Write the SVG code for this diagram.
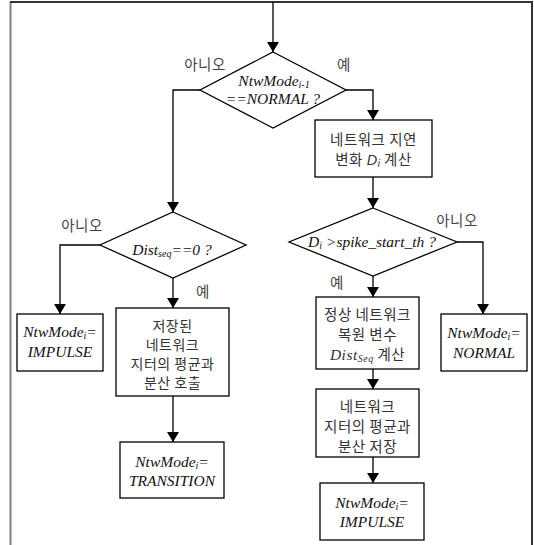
<svg xmlns="http://www.w3.org/2000/svg" width="534" height="545" viewBox="0 0 534 545">
<style>
.ln{fill:none;stroke:#000;stroke-width:1.3}
.bx{fill:#fff;stroke:#000;stroke-width:1.3}
.kr{font-family:"Noto Sans CJK KR","Liberation Sans",sans-serif;font-size:14.5px;fill:#333;text-anchor:middle;letter-spacing:0.5px}
.lb{font-family:"Noto Sans CJK KR","Liberation Sans",sans-serif;font-size:14.5px;fill:#444;text-anchor:middle;letter-spacing:0.5px}
.m{font-family:"Liberation Serif",serif;font-style:italic;font-size:15.5px;fill:#111;text-anchor:middle}
.s{font-size:10px}
</style>
<defs>
<marker id="ah" viewBox="0 0 10 12" refX="10" refY="6" markerWidth="10" markerHeight="12" markerUnits="userSpaceOnUse" orient="auto">
<path d="M0,0 L10,6 L0,12 Z" fill="#000"/>
</marker>
</defs>
<g id="frame">
<line x1="10.5" y1="2" x2="10.5" y2="545" stroke="#808080" stroke-width="2"/>
<line x1="10" y1="2" x2="533" y2="2" stroke="#333" stroke-width="2"/>
<line x1="532" y1="2" x2="532" y2="545" stroke="#333" stroke-width="2"/>
</g>
<g id="connectors">
<line class="ln" x1="273" y1="2" x2="273" y2="52" marker-end="url(#ah)"/>
<polyline class="ln" points="200,90 173,90 173,212" marker-end="url(#ah)"/>
<polyline class="ln" points="346,90 373,90 373,120" marker-end="url(#ah)"/>
<line class="ln" x1="373" y1="177" x2="373" y2="208" marker-end="url(#ah)"/>
<polyline class="ln" points="457,242 483,242 483,314" marker-end="url(#ah)"/>
<line class="ln" x1="373" y1="276" x2="373" y2="297" marker-end="url(#ah)"/>
<line class="ln" x1="373" y1="369" x2="373" y2="389" marker-end="url(#ah)"/>
<line class="ln" x1="373" y1="457" x2="373" y2="483" marker-end="url(#ah)"/>
<polyline class="ln" points="100,245 60,245 60,314" marker-end="url(#ah)"/>
<line class="ln" x1="173" y1="278" x2="173" y2="308" marker-end="url(#ah)"/>
<line class="ln" x1="173" y1="396" x2="173" y2="442" marker-end="url(#ah)"/>
<text class="lb" x="205" y="70">아니오</text>
<text class="lb" x="344" y="70">예</text>
<text class="lb" x="82" y="231">아니오</text>
<text class="lb" x="203" y="297">예</text>
<text class="lb" x="457" y="226">아니오</text>
<text class="lb" x="337" y="288">예</text>
</g>
<g id="d1">
<polygon class="bx" points="273,52 346,90 273,128 200,90"/>
<text class="m" x="274" y="86">NtwMode<tspan class="s" dy="2">i-1</tspan></text>
<text class="m" x="273" y="104">==NORMAL ?</text>
</g>
<g id="b1">
<rect class="bx" x="315" y="120" width="117" height="57"/>
<text class="kr" x="373.5" y="145">네트워크 지연</text>
<text class="kr" x="373.5" y="165">변화 <tspan style="font-family:'Liberation Sans',sans-serif;font-style:italic">D</tspan><tspan style="font-family:'Liberation Sans',sans-serif;font-style:italic;font-size:10px" dy="2">i</tspan><tspan dy="-2"> 계산</tspan></text>
</g>
<g id="d2">
<polygon class="bx" points="173,212 246,245 173,278 100,245"/>
<text class="m" x="172" y="255">Dist<tspan class="s" dy="2">seq</tspan><tspan dy="-2">==0 ?</tspan></text>
</g>
<g id="d3">
<polygon class="bx" points="373,208 457,242 373,276 289,242"/>
<text class="m" x="372" y="247">D<tspan class="s" dy="2">i</tspan><tspan dy="-2"> &gt;spike_start_th ?</tspan></text>
</g>
<g id="b_impulse_left">
<rect class="bx" x="17" y="314" width="86" height="57"/>
<text class="m" x="60" y="337">NtwMode<tspan class="s" dy="2">i</tspan><tspan dy="-2">=</tspan></text>
<text class="m" x="60" y="357">IMPULSE</text>
</g>
<g id="b_load">
<rect class="bx" x="116" y="308" width="113" height="88"/>
<text class="kr" x="172.5" y="331" style="font-size:14px">저장된</text>
<text class="kr" x="172.5" y="350" style="font-size:14px">네트워크</text>
<text class="kr" x="172.5" y="369" style="font-size:14px">지터의 평균과</text>
<text class="kr" x="172.5" y="388" style="font-size:14px">분산 호출</text>
</g>
<g id="b_transition">
<rect class="bx" x="120" y="442" width="104" height="56"/>
<text class="m" x="172" y="467">NtwMode<tspan class="s" dy="2">i</tspan><tspan dy="-2">=</tspan></text>
<text class="m" x="172" y="486">TRANSITION</text>
</g>
<g id="b_calc">
<rect class="bx" x="316" y="297" width="103" height="72"/>
<text class="kr" x="367.5" y="320">정상 네트워크</text>
<text class="kr" x="367.5" y="340">복원 변수</text>
<text class="kr" x="367.5" y="360"><tspan style="font-family:'Liberation Serif',serif;font-style:italic;font-size:15.5px">Dist</tspan><tspan style="font-family:'Liberation Serif',serif;font-style:italic;font-size:10px" dy="2">Seq</tspan><tspan dy="-2"> 계산</tspan></text>
</g>
<g id="b_store">
<rect class="bx" x="316" y="389" width="103" height="68"/>
<text class="kr" x="367.5" y="412">네트워크</text>
<text class="kr" x="367.5" y="432">지터의 평균과</text>
<text class="kr" x="367.5" y="452">분산 저장</text>
</g>
<g id="b_impulse_right">
<rect class="bx" x="320" y="483" width="104" height="57"/>
<text class="m" x="372" y="508">NtwMode<tspan class="s" dy="2">i</tspan><tspan dy="-2">=</tspan></text>
<text class="m" x="372" y="527">IMPULSE</text>
</g>
<g id="b_normal">
<rect class="bx" x="441" y="314" width="86" height="57"/>
<text class="m" x="484" y="338">NtwMode<tspan class="s" dy="2">i</tspan><tspan dy="-2">=</tspan></text>
<text class="m" x="484" y="358">NORMAL</text>
</g>
</svg>
